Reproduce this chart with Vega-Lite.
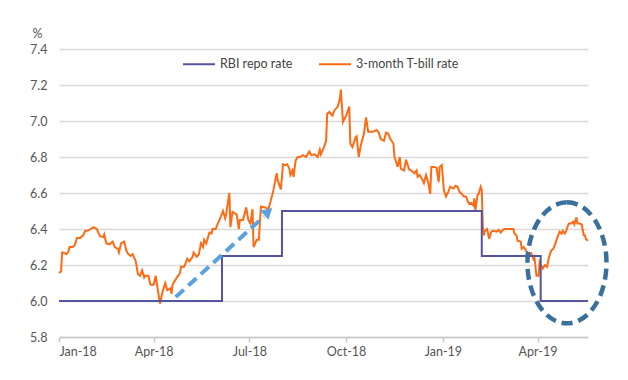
{
  "$schema": "https://vega.github.io/schema/vega-lite/v6.json",
  "width": 529,
  "height": 288,
  "autosize": "none",
  "padding": {"left": 59, "top": 49, "right": 40, "bottom": 43},
  "background": "white",
  "config": {
    "view": {"stroke": null},
    "font": "Lato",
    "axis": {"labelFont": "Lato", "labelFontSize": 12.5, "labelColor": "#555555", "titleFont": "Lato"},
    "legend": {"labelFont": "Lato", "labelFontSize": 12.5, "labelColor": "#444444"}
  },
  "datasets": {
    "tbill": [
      {"d": "2018-01-01", "v": 6.155}, {"d": "2018-01-03", "v": 6.165}, {"d": "2018-01-04", "v": 6.27}, {"d": "2018-01-05", "v": 6.27},
      {"d": "2018-01-08", "v": 6.26}, {"d": "2018-01-10", "v": 6.275}, {"d": "2018-01-11", "v": 6.30}, {"d": "2018-01-14", "v": 6.30},
      {"d": "2018-01-16", "v": 6.31}, {"d": "2018-01-18", "v": 6.35}, {"d": "2018-01-21", "v": 6.35}, {"d": "2018-01-24", "v": 6.365},
      {"d": "2018-01-26", "v": 6.39}, {"d": "2018-01-28", "v": 6.39}, {"d": "2018-01-31", "v": 6.40}, {"d": "2018-02-03", "v": 6.41},
      {"d": "2018-02-06", "v": 6.40}, {"d": "2018-02-07", "v": 6.385}, {"d": "2018-02-09", "v": 6.36}, {"d": "2018-02-12", "v": 6.355},
      {"d": "2018-02-13", "v": 6.37}, {"d": "2018-02-15", "v": 6.32}, {"d": "2018-02-18", "v": 6.315}, {"d": "2018-02-21", "v": 6.33},
      {"d": "2018-02-23", "v": 6.30}, {"d": "2018-02-26", "v": 6.29}, {"d": "2018-02-27", "v": 6.27}, {"d": "2018-03-01", "v": 6.32},
      {"d": "2018-03-04", "v": 6.33}, {"d": "2018-03-06", "v": 6.28}, {"d": "2018-03-08", "v": 6.26}, {"d": "2018-03-10", "v": 6.25},
      {"d": "2018-03-12", "v": 6.26}, {"d": "2018-03-15", "v": 6.22}, {"d": "2018-03-17", "v": 6.15}, {"d": "2018-03-19", "v": 6.14},
      {"d": "2018-03-21", "v": 6.17}, {"d": "2018-03-23", "v": 6.13}, {"d": "2018-03-24", "v": 6.14}, {"d": "2018-03-27", "v": 6.14},
      {"d": "2018-03-29", "v": 6.09}, {"d": "2018-04-01", "v": 6.09}, {"d": "2018-04-03", "v": 6.14}, {"d": "2018-04-05", "v": 6.06},
      {"d": "2018-04-07", "v": 5.985}, {"d": "2018-04-09", "v": 6.04}, {"d": "2018-04-12", "v": 6.10}, {"d": "2018-04-14", "v": 6.06},
      {"d": "2018-04-17", "v": 6.07}, {"d": "2018-04-18", "v": 6.04}, {"d": "2018-04-19", "v": 6.09}, {"d": "2018-04-23", "v": 6.13},
      {"d": "2018-04-26", "v": 6.155}, {"d": "2018-04-27", "v": 6.19}, {"d": "2018-04-30", "v": 6.19}, {"d": "2018-05-03", "v": 6.235},
      {"d": "2018-05-05", "v": 6.22}, {"d": "2018-05-08", "v": 6.245}, {"d": "2018-05-09", "v": 6.27}, {"d": "2018-05-12", "v": 6.245},
      {"d": "2018-05-14", "v": 6.26}, {"d": "2018-05-16", "v": 6.32}, {"d": "2018-05-18", "v": 6.30}, {"d": "2018-05-19", "v": 6.34},
      {"d": "2018-05-21", "v": 6.32}, {"d": "2018-05-24", "v": 6.38}, {"d": "2018-05-26", "v": 6.375}, {"d": "2018-05-27", "v": 6.40},
      {"d": "2018-05-30", "v": 6.40}, {"d": "2018-06-01", "v": 6.43}, {"d": "2018-06-04", "v": 6.47}, {"d": "2018-06-06", "v": 6.50},
      {"d": "2018-06-08", "v": 6.46}, {"d": "2018-06-09", "v": 6.485}, {"d": "2018-06-12", "v": 6.60}, {"d": "2018-06-13", "v": 6.41},
      {"d": "2018-06-15", "v": 6.495}, {"d": "2018-06-19", "v": 6.48}, {"d": "2018-06-21", "v": 6.40}, {"d": "2018-06-22", "v": 6.45},
      {"d": "2018-06-25", "v": 6.45}, {"d": "2018-06-28", "v": 6.52}, {"d": "2018-06-30", "v": 6.45}, {"d": "2018-07-02", "v": 6.43},
      {"d": "2018-07-04", "v": 6.51}, {"d": "2018-07-05", "v": 6.30}, {"d": "2018-07-08", "v": 6.34}, {"d": "2018-07-10", "v": 6.34},
      {"d": "2018-07-12", "v": 6.525}, {"d": "2018-07-16", "v": 6.52}, {"d": "2018-07-19", "v": 6.51}, {"d": "2018-07-21", "v": 6.55},
      {"d": "2018-07-23", "v": 6.595}, {"d": "2018-07-24", "v": 6.62}, {"d": "2018-07-27", "v": 6.71}, {"d": "2018-07-28", "v": 6.67},
      {"d": "2018-07-31", "v": 6.62}, {"d": "2018-08-02", "v": 6.76}, {"d": "2018-08-04", "v": 6.755}, {"d": "2018-08-06", "v": 6.76},
      {"d": "2018-08-08", "v": 6.735}, {"d": "2018-08-09", "v": 6.70}, {"d": "2018-08-11", "v": 6.725}, {"d": "2018-08-12", "v": 6.69},
      {"d": "2018-08-14", "v": 6.78}, {"d": "2018-08-16", "v": 6.80}, {"d": "2018-08-18", "v": 6.80}, {"d": "2018-08-21", "v": 6.81},
      {"d": "2018-08-24", "v": 6.80}, {"d": "2018-08-27", "v": 6.83}, {"d": "2018-08-29", "v": 6.81}, {"d": "2018-09-01", "v": 6.815},
      {"d": "2018-09-04", "v": 6.80}, {"d": "2018-09-06", "v": 6.84}, {"d": "2018-09-07", "v": 6.815}, {"d": "2018-09-10", "v": 6.855},
      {"d": "2018-09-12", "v": 6.89}, {"d": "2018-09-13", "v": 7.04}, {"d": "2018-09-15", "v": 7.05}, {"d": "2018-09-18", "v": 7.03},
      {"d": "2018-09-20", "v": 7.06}, {"d": "2018-09-23", "v": 7.08}, {"d": "2018-09-25", "v": 7.12}, {"d": "2018-09-26", "v": 7.175},
      {"d": "2018-09-28", "v": 6.995}, {"d": "2018-10-01", "v": 7.03}, {"d": "2018-10-04", "v": 7.08}, {"d": "2018-10-05", "v": 6.875},
      {"d": "2018-10-07", "v": 6.855}, {"d": "2018-10-10", "v": 6.91}, {"d": "2018-10-11", "v": 6.915}, {"d": "2018-10-13", "v": 6.80},
      {"d": "2018-10-15", "v": 6.865}, {"d": "2018-10-18", "v": 6.93}, {"d": "2018-10-20", "v": 7.02}, {"d": "2018-10-22", "v": 6.94},
      {"d": "2018-10-24", "v": 6.94}, {"d": "2018-10-26", "v": 6.94}, {"d": "2018-10-30", "v": 6.95}, {"d": "2018-11-01", "v": 6.935},
      {"d": "2018-11-03", "v": 6.90}, {"d": "2018-11-06", "v": 6.89}, {"d": "2018-11-08", "v": 6.935}, {"d": "2018-11-10", "v": 6.93},
      {"d": "2018-11-12", "v": 6.90}, {"d": "2018-11-15", "v": 6.875}, {"d": "2018-11-16", "v": 6.80}, {"d": "2018-11-18", "v": 6.765},
      {"d": "2018-11-19", "v": 6.745}, {"d": "2018-11-21", "v": 6.80}, {"d": "2018-11-22", "v": 6.735}, {"d": "2018-11-25", "v": 6.725},
      {"d": "2018-11-27", "v": 6.785}, {"d": "2018-11-30", "v": 6.73}, {"d": "2018-12-02", "v": 6.725}, {"d": "2018-12-05", "v": 6.71},
      {"d": "2018-12-07", "v": 6.725}, {"d": "2018-12-08", "v": 6.69}, {"d": "2018-12-10", "v": 6.70}, {"d": "2018-12-12", "v": 6.68},
      {"d": "2018-12-14", "v": 6.655}, {"d": "2018-12-16", "v": 6.70}, {"d": "2018-12-18", "v": 6.66}, {"d": "2018-12-20", "v": 6.595},
      {"d": "2018-12-21", "v": 6.745}, {"d": "2018-12-24", "v": 6.745}, {"d": "2018-12-26", "v": 6.74}, {"d": "2018-12-28", "v": 6.66},
      {"d": "2018-12-29", "v": 6.745}, {"d": "2018-12-31", "v": 6.755}, {"d": "2019-01-02", "v": 6.615}, {"d": "2019-01-04", "v": 6.58},
      {"d": "2019-01-06", "v": 6.605}, {"d": "2019-01-08", "v": 6.635}, {"d": "2019-01-11", "v": 6.625}, {"d": "2019-01-13", "v": 6.64},
      {"d": "2019-01-15", "v": 6.635}, {"d": "2019-01-17", "v": 6.605}, {"d": "2019-01-19", "v": 6.595}, {"d": "2019-01-21", "v": 6.58},
      {"d": "2019-01-23", "v": 6.58}, {"d": "2019-01-25", "v": 6.55}, {"d": "2019-01-26", "v": 6.54}, {"d": "2019-01-28", "v": 6.545},
      {"d": "2019-01-30", "v": 6.53}, {"d": "2019-01-31", "v": 6.57}, {"d": "2019-02-01", "v": 6.505}, {"d": "2019-02-03", "v": 6.59},
      {"d": "2019-02-04", "v": 6.595}, {"d": "2019-02-06", "v": 6.635}, {"d": "2019-02-07", "v": 6.615}, {"d": "2019-02-08", "v": 6.41},
      {"d": "2019-02-09", "v": 6.365}, {"d": "2019-02-10", "v": 6.39}, {"d": "2019-02-12", "v": 6.40}, {"d": "2019-02-13", "v": 6.375},
      {"d": "2019-02-14", "v": 6.345}, {"d": "2019-02-16", "v": 6.385}, {"d": "2019-02-18", "v": 6.39}, {"d": "2019-02-21", "v": 6.385},
      {"d": "2019-02-23", "v": 6.395}, {"d": "2019-02-25", "v": 6.38}, {"d": "2019-02-27", "v": 6.395}, {"d": "2019-03-01", "v": 6.40},
      {"d": "2019-03-04", "v": 6.40}, {"d": "2019-03-09", "v": 6.40}, {"d": "2019-03-10", "v": 6.375}, {"d": "2019-03-12", "v": 6.365},
      {"d": "2019-03-13", "v": 6.335}, {"d": "2019-03-16", "v": 6.33}, {"d": "2019-03-17", "v": 6.29}, {"d": "2019-03-19", "v": 6.30},
      {"d": "2019-03-21", "v": 6.28}, {"d": "2019-03-24", "v": 6.255}, {"d": "2019-03-26", "v": 6.265}, {"d": "2019-03-28", "v": 6.235},
      {"d": "2019-03-29", "v": 6.245}, {"d": "2019-03-31", "v": 6.14}, {"d": "2019-04-02", "v": 6.14}, {"d": "2019-04-03", "v": 6.215},
      {"d": "2019-04-05", "v": 6.19}, {"d": "2019-04-06", "v": 6.18}, {"d": "2019-04-08", "v": 6.20}, {"d": "2019-04-10", "v": 6.19},
      {"d": "2019-04-12", "v": 6.245}, {"d": "2019-04-14", "v": 6.28}, {"d": "2019-04-16", "v": 6.29}, {"d": "2019-04-18", "v": 6.32},
      {"d": "2019-04-20", "v": 6.355}, {"d": "2019-04-22", "v": 6.385}, {"d": "2019-04-24", "v": 6.375}, {"d": "2019-04-25", "v": 6.39},
      {"d": "2019-04-27", "v": 6.375}, {"d": "2019-04-28", "v": 6.385}, {"d": "2019-04-30", "v": 6.42}, {"d": "2019-05-01", "v": 6.43},
      {"d": "2019-05-03", "v": 6.43}, {"d": "2019-05-05", "v": 6.44}, {"d": "2019-05-06", "v": 6.425}, {"d": "2019-05-08", "v": 6.465},
      {"d": "2019-05-09", "v": 6.43}, {"d": "2019-05-11", "v": 6.43}, {"d": "2019-05-13", "v": 6.425}, {"d": "2019-05-15", "v": 6.365},
      {"d": "2019-05-16", "v": 6.365}, {"d": "2019-05-17", "v": 6.345}, {"d": "2019-05-19", "v": 6.335}
    ],
    "repo": [
      {"d": "2018-01-01", "v": 6.00}, {"d": "2018-06-05", "v": 6.25}, {"d": "2018-08-01", "v": 6.50},
      {"d": "2019-02-07", "v": 6.25}, {"d": "2019-04-04", "v": 6.00}, {"d": "2019-05-19", "v": 6.00}
    ],
    "arrow": [
      {"d": "2018-04-22", "v": 6.022, "d2": "2018-07-15", "v2": 6.47}
    ],
    "arrowhead": [
      {"d": "2018-07-19", "v": 6.497}
    ],
    "ellipse": [
      {"d": "2019-04-29", "v": 6.212}
    ]
  },
  "encoding": {
    "x": {
      "field": "d", "type": "temporal",
      "scale": {"type": "utc", "domain": [{"year": 2018, "month": 1, "date": 1, "utc": true}, {"year": 2019, "month": 5, "date": 19, "utc": true}]},
      "axis": {
        "title": null, "format": "%b-%y", "tickCount": {"interval": "month", "step": 3},
        "grid": false, "domainColor": "#c8c8c8", "domainWidth": 1.5, "tickColor": "#c8c8c8", "tickWidth": 1.5, "tickSize": 5,
        "labelPadding": 3, "labelAngle": 0
      }
    },
    "y": {
      "field": "v", "type": "quantitative",
      "scale": {"domain": [5.8, 7.4], "nice": false, "zero": false},
      "axis": {
        "title": "%", "titleAngle": 0, "titleX": -27, "titleY": -12, "titleAlign": "left", "titleBaseline": "alphabetic",
        "titleFontSize": 12.5, "titleFontWeight": "normal", "titleColor": "#555555",
        "values": [5.8, 6.0, 6.2, 6.4, 6.6, 6.8, 7.0, 7.2, 7.4], "format": ".1f",
        "domain": false, "ticks": false, "labelPadding": 12,
        "grid": true, "gridColor": "#d9d9d9", "gridWidth": 1.5
      }
    }
  },
  "layer": [
    {
      "data": {"name": "tbill"},
      "mark": {"type": "line", "strokeWidth": 2, "interpolate": "linear"},
      "encoding": {
        "color": {
          "datum": "3-month T-bill rate",
          "scale": {"domain": ["RBI repo rate", "3-month T-bill rate"], "range": ["#56539f", "#ff6a13"]},
          "legend": {
            "title": null, "orient": "none", "direction": "horizontal", "legendX": 123, "legendY": -2,
            "symbolType": "stroke", "symbolSize": 1024, "symbolStrokeWidth": 2, "columnPadding": 22, "labelOffset": 4
          }
        }
      }
    },
    {
      "data": {"name": "repo"},
      "mark": {"type": "line", "strokeWidth": 2, "interpolate": "step-after"},
      "encoding": {
        "color": {"datum": "RBI repo rate"}
      }
    },
    {
      "data": {"name": "arrow"},
      "mark": {"type": "rule", "color": "#5aa2df", "strokeWidth": 4, "strokeDash": [11, 6]},
      "encoding": {
        "x2": {"field": "d2"},
        "y2": {"field": "v2"}
      }
    },
    {
      "data": {"name": "arrowhead"},
      "mark": {"type": "point", "shape": "triangle-up", "filled": true, "color": "#5aa2df", "size": 150, "angle": 47, "opacity": 1},
      "encoding": {}
    },
    {
      "data": {"name": "ellipse"},
      "mark": {
        "type": "point", "shape": "M0,-1 A0.653,1 0 1,1 0,1 A0.653,1 0 1,1 0,-1 Z",
        "filled": false, "fill": null, "stroke": "#3b6f9c", "strokeWidth": 4.5, "strokeDash": [11, 6], "size": 14641, "opacity": 1
      },
      "encoding": {}
    }
  ]
}
